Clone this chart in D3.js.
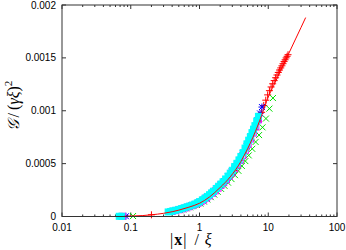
<!DOCTYPE html>
<html>
<head>
<meta charset="utf-8">
<script src="https://cdn.jsdelivr.net/npm/d3@7"></script>
<style>
  body { margin: 0; background: #fff; }
  svg { display: block; }
  .tick-label { font-family: "Liberation Sans", Arial, sans-serif; font-size: 10px; fill: #000; }
  .axis-title { font-family: "Liberation Serif", "DejaVu Serif", serif; fill: #000; }
</style>
</head>
<body>
<svg id="chart" width="346" height="250"></svg>
<script>
// --- data (x = |x|/xi, y = G/(gamma xi)^2) ---
const redLineX = [0.08, 0.1, 0.15, 0.2, 0.3, 0.4, 0.5, 0.7, 1, 1.4, 2, 2.8, 4, 5, 6, 7, 8, 10, 12, 15, 20, 25, 30, 35];
const redLineY = [0.000002, 0.000004, 0.000009, 0.000016, 0.00003, 0.000045, 0.00006, 0.000088, 0.000125, 0.000185, 0.000275, 0.000375, 0.00052, 0.00064, 0.00075, 0.000855, 0.000955, 0.00113, 0.001239, 0.001373, 0.001545, 0.001679, 0.001788, 0.001881];

const redX = [0.2, 1.0, 1.4, 2.0, 2.6, 3.2, 4.0, 4.8, 5.6, 6.4, 7.2, 8.0, 8.6, 9.2, 9.8, 10.4, 11.0, 11.6, 12.2, 12.8, 13.4, 14.0, 14.6, 15.2, 15.8, 16.4, 17.0, 17.6, 18.2, 18.8, 19.4];
const redY = [0.000016, 0.00013, 0.00019, 0.000285, 0.00036, 0.000435, 0.000535, 0.00063, 0.00073, 0.00082, 0.0009, 0.000985, 0.00105, 0.0011, 0.00115, 0.00119, 0.001225, 0.001255, 0.001285, 0.001312, 0.001338, 0.001362, 0.001385, 0.001405, 0.001425, 0.001445, 0.001465, 0.001482, 0.0015, 0.001515, 0.00153];

const greenX = [0.108, 0.52, 0.58, 0.65, 0.73, 0.82, 0.92, 1.03, 1.16, 1.3, 1.46, 1.64, 1.84, 2.06, 2.31, 2.6, 2.92, 3.28, 3.68, 4.13, 4.64, 5.2, 5.85, 6.55, 7.35, 8.25, 9.25, 10.4, 11.7];
const greenY = [0.0000045, 0.000059, 0.000067, 0.000077, 0.000087, 0.000098, 0.000109, 0.000122, 0.000141, 0.000161, 0.000183, 0.000207, 0.000233, 0.000261, 0.00029, 0.00032, 0.000354, 0.000391, 0.000432, 0.000478, 0.000524, 0.000578, 0.00064, 0.000705, 0.00077, 0.000843, 0.000926, 0.00102, 0.00112];

const blueX = [0.085, 0.43, 0.48, 0.54, 0.6, 0.68, 0.77, 0.87, 0.98, 1.1, 1.25, 1.4, 1.6, 1.8, 2.05, 2.3, 2.6, 2.95, 3.35, 3.8, 4.3, 4.85, 5.5, 6.2, 7.0, 7.6, 8.1];
const blueY = [0.0000025, 0.000054, 0.0000625, 0.0000715, 0.000081, 0.000092, 0.000104, 0.000117, 0.000134, 0.000153, 0.000178, 0.000202, 0.000235, 0.000266, 0.000302, 0.000335, 0.000376, 0.000424, 0.000477, 0.000532, 0.000597, 0.000667, 0.000744, 0.000825, 0.000911, 0.000975, 0.001035];

const magentaX = [0.076, 0.4, 0.45, 0.5, 0.56, 0.62, 0.7, 0.78, 0.86, 0.95, 1.05, 1.15, 1.27, 1.4, 1.55, 1.7, 1.87, 2.05, 2.25, 2.47, 2.7, 2.95, 3.25, 3.55, 3.9, 4.25, 4.65, 5.1, 5.55, 6.05, 6.6, 7.2];
const magentaY = [0.000002, 0.000048, 0.000056, 0.0000635, 0.000072, 0.000081, 0.000092, 0.000102, 0.000113, 0.000125, 0.00014, 0.000157, 0.000175, 0.000196, 0.00022, 0.000243, 0.000269, 0.000294, 0.00032, 0.000349, 0.000379, 0.000412, 0.000451, 0.000489, 0.000532, 0.000575, 0.000626, 0.000683, 0.000733, 0.000789, 0.000848, 0.000915];

const cyanX = [0.068, 0.074, 0.35, 0.38, 0.41, 0.45, 0.5, 0.55, 0.6, 0.66, 0.72, 0.79, 0.86, 0.93, 1.0, 1.1, 1.2, 1.3, 1.4, 1.5, 1.6, 1.75, 1.9, 2.05, 2.2, 2.4, 2.6, 2.8, 3.0, 3.25, 3.5, 3.75, 4.0, 4.3, 4.6, 4.9, 5.2, 5.5, 5.8, 6.1, 6.4, 6.8, 7.2];
const cyanY = [0.000002, 0.000002, 0.000043, 0.0000475, 0.000053, 0.000059, 0.000067, 0.0000745, 0.000082, 0.000091, 0.000099, 0.000108, 0.000118, 0.000128, 0.00014, 0.000157, 0.000173, 0.00019, 0.000206, 0.000223, 0.000239, 0.000264, 0.000286, 0.000307, 0.000328, 0.000355, 0.000382, 0.00041, 0.000437, 0.000472, 0.000503, 0.000535, 0.000568, 0.000604, 0.000647, 0.000687, 0.000722, 0.000756, 0.000793, 0.000826, 0.000859, 0.000903, 0.000947];

const xTicks = [0.01, 0.1, 1, 10, 100];
const yTicks = [0, 0.0005, 0.001, 0.0015, 0.002];
const yTickLabels = ["0", "0.0005", "0.001", "0.0015", "0.002"];

const width = 346, height = 250;
const margin = { top: 5, right: 9, bottom: 33.5, left: 62 };
const svg = d3.select("#chart");

const x = d3.scaleLog().domain([0.01, 100]).range([margin.left, width - margin.right]);
const y = d3.scaleLinear().domain([0, 0.002]).range([height - margin.bottom, margin.top]);

const zip = (xs, ys) => xs.map((v, i) => ({ x: v, y: ys[i] }));

// minor log ticks
const minorTicks = [];
xTicks.slice(0, -1).forEach(t => {
    for (let k = 2; k <= 9; k++) minorTicks.push(t * k);
});

const axisColor = "#333";
const axes = svg.append("g");
// ticks, inward, bottom and top
[height - margin.bottom, margin.top].forEach((yy, side) => {
    const dir = side === 0 ? -1 : 1;
    axes.selectAll(null).data(xTicks).join("line")
        .attr("x1", d => x(d)).attr("x2", d => x(d))
        .attr("y1", yy).attr("y2", yy + dir * 4)
        .attr("stroke", axisColor);
    axes.selectAll(null).data(minorTicks).join("line")
        .attr("x1", d => x(d)).attr("x2", d => x(d))
        .attr("y1", yy).attr("y2", yy + dir * 2)
        .attr("stroke", axisColor);
});
[margin.left, width - margin.right].forEach((xx, side) => {
    const dir = side === 0 ? 1 : -1;
    axes.selectAll(null).data(yTicks).join("line")
        .attr("x1", xx).attr("x2", xx + dir * 4)
        .attr("y1", d => y(d)).attr("y2", d => y(d))
        .attr("stroke", axisColor);
});

axes.selectAll(null).data(xTicks).join("text")
    .attr("class", "tick-label")
    .attr("x", d => x(d))
    .attr("y", height - margin.bottom + 14)
    .attr("text-anchor", "middle")
    .text(d => d3.format("~g")(d));
axes.selectAll(null).data(yTicks).join("text")
    .attr("class", "tick-label")
    .attr("x", margin.left - 6)
    .attr("y", d => y(d) + 3.5)
    .attr("text-anchor", "end")
    .text((d, i) => yTickLabels[i]);

// series points, gnuplot order
const plot = svg.append("g");
const cross = (g, data, color) => {
    g.selectAll(null).data(data).join("path")
        .attr("d", d => `M${x(d.x) - 3.5},${y(d.y)}h7M${x(d.x)},${y(d.y) - 3.5}v7`)
        .attr("stroke", color).attr("fill", "none");
};
const xmark = (g, data, color) => {
    g.selectAll(null).data(data).join("path")
        .attr("d", d => `M${x(d.x) - 3},${y(d.y) - 3}l6,6M${x(d.x) - 3},${y(d.y) + 3}l6,-6`)
        .attr("stroke", color).attr("fill", "none");
};
const star = (g, data, color) => {
    g.selectAll(null).data(data).join("path")
        .attr("d", d => `M${x(d.x) - 3.5},${y(d.y)}h7M${x(d.x)},${y(d.y) - 3.5}v7M${x(d.x) - 3},${y(d.y) - 3}l6,6M${x(d.x) - 3},${y(d.y) + 3}l6,-6`)
        .attr("stroke", color).attr("fill", "none");
};
const square = (g, data, color, filled) => {
    g.selectAll(null).data(data).join("rect")
        .attr("x", d => x(d.x) - 3).attr("y", d => y(d.y) - 3)
        .attr("width", 6).attr("height", 6)
        .attr("fill", filled ? color : "none")
        .attr("stroke", color);
};

cross(plot, zip(redX, redY), "#ff0000");
xmark(plot, zip(greenX, greenY), "#00e000");
star(plot, zip(blueX, blueY), "#0000ff");
square(plot, zip(magentaX, magentaY), "#ff00ff", false);
square(plot, zip(cyanX, cyanY), "#00ffff", true);

const line = d3.line().x(d => x(d.x)).y(d => y(d.y)).curve(d3.curveMonotoneX);
plot.append("path")
    .datum(zip(redLineX, redLineY))
    .attr("d", line)
    .attr("fill", "none")
    .attr("stroke", "#ff0000")
    .attr("stroke-width", 1);

// frame
svg.append("rect")
    .attr("x", margin.left).attr("y", margin.top)
    .attr("width", width - margin.left - margin.right)
    .attr("height", height - margin.top - margin.bottom)
    .attr("fill", "none").attr("stroke", axisColor);

// axis titles
svg.append("text")
    .attr("class", "axis-title")
    .attr("x", 170).attr("y", 245)
    .style("font-size", "16px")
    .html('|<tspan dx="1" font-weight="bold">x</tspan><tspan dx="1">|</tspan><tspan dx="8">/</tspan><tspan dx="6" font-style="italic">ξ</tspan>');

svg.append("text")
    .attr("class", "axis-title")
    .attr("transform", "translate(19,106) rotate(-90)")
    .attr("text-anchor", "middle")
    .style("font-size", "16px")
    .html('<tspan font-style="italic">𝒢</tspan><tspan dx="3">/</tspan><tspan dx="3">(</tspan><tspan font-style="italic">γξ</tspan>)<tspan dy="-7" font-size="11px">2</tspan>');
</script>
</body>
</html>
